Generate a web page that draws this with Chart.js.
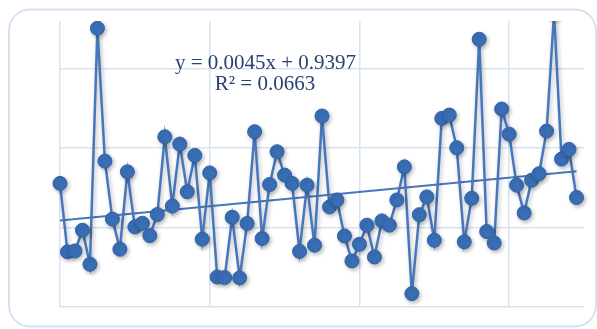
<!DOCTYPE html>
<html>
<head>
<meta charset="utf-8">
<script src="https://cdn.jsdelivr.net/npm/chart.js@4/dist/chart.umd.min.js"></script>
<style>
  html, body { margin: 0; padding: 0; background: #fff; }
  #wrap { width: 597px; height: 329px; }
</style>
</head>
<body>
<div id="wrap"><canvas id="chart" width="597" height="329"></canvas></div>
<script>
// values, one per point (x = 1..70)
const values = [
  1.178, 0.747, 0.753, 0.883, 0.669, 2.154, 1.318, 0.953, 0.764, 1.251,
  0.904, 0.927, 0.849, 0.982, 1.471, 1.035, 1.425, 1.125, 1.354, 0.827,
  1.244, 0.589, 0.585, 0.965, 0.583, 0.926, 1.503, 0.831, 1.171, 1.377,
  1.230, 1.178, 0.750, 1.167, 0.789, 1.602, 1.030, 1.074, 0.847, 0.690,
  0.795, 0.915, 0.715, 0.942, 0.915, 1.074, 1.282, 0.484, 0.981, 1.093,
  0.820, 1.587, 1.608, 1.402, 0.810, 1.084, 2.085, 0.875, 0.803, 1.646,
  1.488, 1.167, 0.992, 1.198, 1.239, 1.507, 2.250, 1.331, 1.392, 1.089
];
const xTicks = [1, 21, 41, 61];
const yTicks = [0.4, 0.9, 1.4, 1.9];

// trendline as printed on the chart
const trendSlope = 0.0045;
const trendIntercept = 0.9397;
const trendLabels = ["y = 0.0045x + 0.9397", "R\u00B2 = 0.0663"];

const points = values.map((v, i) => ({ x: i + 1, y: v }));
const lastX = values.length;
const trendPoints = [
  { x: 1, y: trendIntercept + trendSlope * 1 },
  { x: lastX, y: trendIntercept + trendSlope * lastX }
];

const gridColor = "#d8e3f2";
const blue = "#4676bb";

const framePlugin = {
  id: "frame",
  beforeDraw(chart) {
    const ctx = chart.ctx;
    ctx.save();
    ctx.strokeStyle = "#d7e2f1";
    ctx.lineWidth = 2;
    ctx.beginPath();
    ctx.roundRect(9, 9.5, 587, 317, 21);
    ctx.stroke();
    ctx.restore();
  },
  beforeDatasetDraw(chart, args) {
    if (args.index !== 0) return;
    const ctx = chart.ctx;
    ctx.shadowColor = "rgba(0,0,0,0.28)";
    ctx.shadowBlur = 4;
    ctx.shadowOffsetX = 1.5;
    ctx.shadowOffsetY = 2;
  },
  afterDatasetDraw(chart, args) {
    const ctx = chart.ctx;
    ctx.shadowColor = "rgba(0,0,0,0)";
    ctx.shadowBlur = 0;
    ctx.shadowOffsetX = 0;
    ctx.shadowOffsetY = 0;
  },
  afterDraw(chart) {
    const ctx = chart.ctx;
    ctx.save();
    ctx.font = '21px "Liberation Serif", "Times New Roman", serif';
    ctx.fillStyle = "#2a4270";
    ctx.textAlign = "center";
    ctx.textBaseline = "alphabetic";
    ctx.fillText(trendLabels[0], 265.5, 69);
    ctx.fillText(trendLabels[1], 265, 90);
    ctx.restore();
  }
};

new Chart(document.getElementById("chart").getContext("2d"), {
  type: "scatter",
  data: {
    datasets: [
      {
        label: "series",
        data: points,
        showLine: true,
        borderColor: blue,
        borderWidth: 2.5,
        pointRadius: 7,
        pointBackgroundColor: "#3a6fb7",
        pointBorderColor: "#2f62a8",
        pointBorderWidth: 1,
        clip: { left: false, top: 0, right: false, bottom: false },
        order: 1
      },
      {
        label: "trend",
        data: trendPoints,
        showLine: true,
        borderColor: blue,
        borderWidth: 2,
        pointRadius: 0,
        order: 2
      }
    ]
  },
  options: {
    responsive: false,
    animation: false,
    layout: { padding: { left: 60, right: 13, top: 21, bottom: 22 } },
    plugins: {
      legend: { display: false },
      tooltip: { enabled: false }
    },
    scales: {
      x: {
        type: "linear",
        min: 1,
        max: 71,
        afterBuildTicks: axis => { axis.ticks = xTicks.map(v => ({ value: v })); },
        ticks: { display: false },
        grid: { color: gridColor, lineWidth: 1.5, drawTicks: false },
        border: { display: false }
      },
      y: {
        min: 0.4,
        max: 2.2,
        afterBuildTicks: axis => { axis.ticks = yTicks.map(v => ({ value: v })); },
        ticks: { display: false },
        grid: { color: gridColor, lineWidth: 1.5, drawTicks: false },
        border: { display: false }
      }
    }
  },
  plugins: [framePlugin]
});
</script>
</body>
</html>
